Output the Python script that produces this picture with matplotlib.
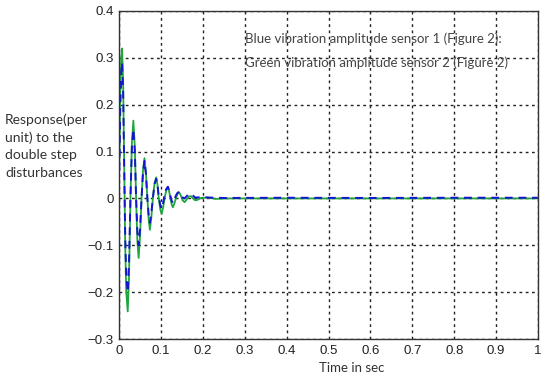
import matplotlib.pyplot as plt

# green: vibration amplitude sensor 2 (solid)
t_green = [0.000, 0.002, 0.0045, 0.0065, 0.009, 0.0115, 0.014, 0.0165, 0.020, 0.023,
           0.0265, 0.030, 0.0335, 0.037, 0.040, 0.043, 0.046, 0.0495, 0.053, 0.0565,
           0.060, 0.0635, 0.067, 0.070, 0.073, 0.0765, 0.080, 0.084, 0.088, 0.091,
           0.094, 0.098, 0.101, 0.1045, 0.108, 0.112, 0.116, 0.119, 0.122, 0.125,
           0.128, 0.131, 0.135, 0.139, 0.143, 0.147, 0.151, 0.156, 0.161, 0.166,
           0.171, 0.176, 0.181, 0.187, 0.195, 0.21, 0.23, 0.26, 0.35, 0.5, 0.7, 0.85, 1.0]
y_green = [0.08, 0.22, 0.30, 0.32, 0.25, 0.08, -0.10, -0.20, -0.241, -0.17,
           0.00, 0.12, 0.166, 0.11, 0.00, -0.09, -0.127, -0.08, 0.00, 0.06,
           0.086, 0.055, 0.00, -0.045, -0.067, -0.04, 0.00, 0.032, 0.045, 0.03,
           0.00, -0.024, -0.033, -0.02, 0.00, 0.017, 0.024, 0.015, 0.00, -0.013,
           -0.019, -0.012, 0.00, 0.010, 0.013, 0.006, -0.004, -0.008, -0.002, 0.004,
           0.005, 0.000, -0.004, -0.003, 0.001, 0.002, -0.001, 0.000, 0.000, 0.000, 0.000, 0.000, 0.000]

# blue: vibration amplitude sensor 1 (dashed)
t_blue = [0.000, 0.002, 0.0045, 0.0065, 0.009, 0.0115, 0.014, 0.0165, 0.020, 0.023,
          0.0265, 0.030, 0.0335, 0.037, 0.040, 0.043, 0.046, 0.0495, 0.053, 0.0565,
          0.060, 0.0635, 0.067, 0.070, 0.073, 0.0765, 0.080, 0.084, 0.088, 0.091,
          0.094, 0.098, 0.101, 0.1045, 0.108, 0.112, 0.116, 0.119, 0.122, 0.125,
          0.128, 0.131, 0.135, 0.139, 0.143, 0.147, 0.151, 0.156, 0.161, 0.166,
          0.171, 0.176, 0.181, 0.187, 0.195, 0.21, 0.25, 0.4, 0.6, 0.8, 1.0]
y_blue = [0.06, 0.18, 0.27, 0.29, 0.23, 0.07, -0.08, -0.17, -0.20, -0.14,
          0.00, 0.11, 0.148, 0.10, 0.00, -0.07, -0.10, -0.065, 0.00, 0.055,
          0.08, 0.052, 0.00, -0.035, -0.052, -0.03, 0.00, 0.03, 0.042, 0.03,
          0.005, -0.015, -0.022, -0.01, 0.008, 0.02, 0.025, 0.017, 0.005, -0.005,
          -0.01, -0.004, 0.006, 0.012, 0.014, 0.009, 0.002, 0.000, 0.005, 0.009,
          0.010, 0.006, 0.002, 0.002, 0.003, 0.002, 0.001, 0.0015, 0.001, 0.0015, 0.0015]

x_ticks = [0, 0.1, 0.2, 0.3, 0.4, 0.5, 0.6, 0.7, 0.8, 0.9, 1]
x_labels = ['0', '0.1', '0.2', '0.3', '0.4', '0.5', '0.6', '0.7', '0.8', '0.9', '1']
y_ticks = [-0.3, -0.2, -0.1, 0, 0.1, 0.2, 0.3, 0.4]
y_labels = ['\u22120.3', '\u22120.2', '\u22120.1', '0', '0.1', '0.2', '0.3', '0.4']

fig = plt.figure(figsize=(5.5, 3.79), dpi=100)
ax = fig.add_axes([0.217, 0.1055, 0.761, 0.8655])

ax.plot(t_green, y_green, color='#1fa53c', lw=1.3, solid_joinstyle='round')
ax.plot(t_blue, y_blue, color='#1414d2', lw=1.4, ls=(0, (4, 3)))

ax.set_xlim(0, 1)
ax.set_ylim(-0.3, 0.4)
ax.set_xticks(x_ticks)
ax.set_xticklabels(x_labels)
ax.set_yticks(y_ticks)
ax.set_yticklabels(y_labels)
ax.tick_params(direction='in', length=0, labelsize=9.5, colors='#222222', pad=4)
for lab in ax.get_xticklabels() + ax.get_yticklabels():
    lab.set_family('Liberation Sans')

ax.grid(True, color='#222222', ls=(0, (2, 2.5)), lw=1.0)
ax.set_axisbelow(True)
for s in ax.spines.values():
    s.set_color('#333333')
    s.set_linewidth(1.0)

ax.text(0.30, 0.34, 'Blue vibration amplitude sensor 1 (Figure 2):', fontsize=9.5,
        family='Lato', color='#444444', va='center')
ax.text(0.30, 0.289, 'Green vibration amplitude sensor 2 (Figure 2)', fontsize=9.5,
        family='Lato', color='#444444', va='center')

fig.text(352 / 550, 1 - 368 / 379, 'Time in sec', fontsize=9.5, family='Lato',
         color='#333333', ha='center', va='center')
fig.text(5 / 550, 1 - 146 / 379, 'Response(per\nunit) to the\ndouble step\ndisturbances',
         fontsize=10, family='Lato', color='#333333', ha='left', va='center',
         linespacing=1.55)

fig.savefig('out.png', dpi=100)
